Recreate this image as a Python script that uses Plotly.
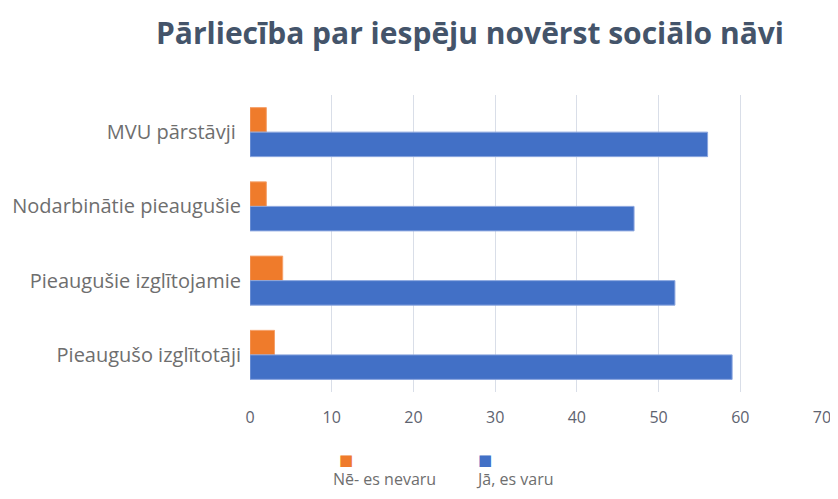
import plotly.graph_objects as go

categories = ["MVU pārstāvji\u00a0", "Nodarbinātie pieaugušie", "Pieaugušie izglītojamie", "Pieaugušo izglītotāji"]
series_names = ["Nē- es nevaru", "Jā, es varu"]
no_values = [2, 2, 4, 3]
yes_values = [56, 47, 52, 59]
x_ticks = [0, 10, 20, 30, 40, 50, 60, 70]
title_text = "Pārliecība par iespēju novērst sociālo nāvi"

orange = "#EF7B2B"
blue = "#4270C6"
gray = "#6E6E6E"
tick_gray = "#5E6370"

fig = go.Figure()
fig.add_trace(go.Bar(y=categories, x=no_values, orientation="h", name=series_names[0],
                     marker=dict(color=orange, line=dict(color="#F5A06A", width=1))))
fig.add_trace(go.Bar(y=categories, x=yes_values, orientation="h", name=series_names[1],
                     marker=dict(color=blue, line=dict(color="#8AA5DE", width=1))))

# the page body adds an 8px margin; work in page pixels and compensate
OFF = 8
W, H = 838 - OFF, 499 - 2 * OFF
L, T = 250 - OFF, 95 - OFF
R = (OFF + W) - 822
B = (OFF + H) - 392
pw = W - L - R

def px(x):
    return (x - OFF - L) / pw

def py(y):
    return (H - B - (y - OFF)) / (H - T - B)

# legend (squares above names)
legend_items = [(series_names[0], orange, 331, 337), (series_names[1], blue, 474, 476)]
for name, col, tx, sx in legend_items:
    fig.add_annotation(x=px(sx), y=py(460), xref="paper", yref="paper", xanchor="left", yanchor="middle",
                       text="■", showarrow=False, font=dict(color=col, size=15, family="DejaVu Sans"))
    fig.add_annotation(x=px(tx), y=py(479), xref="paper", yref="paper", xanchor="left", yanchor="middle",
                       text=name, showarrow=False, font=dict(color=gray, size=16, family="Open Sans"))

fig.update_layout(
    width=W, height=H,
    margin=dict(l=L, r=R, t=T, b=B),
    paper_bgcolor="white", plot_bgcolor="white",
    barmode="group", bargap=0.34, bargroupgap=0,
    showlegend=False,
    title=dict(text="<b>" + title_text + "</b>", x=(470 - OFF) / W, xanchor="center",
               y=1 - (33 - OFF) / H, yanchor="middle",
               font=dict(size=30, color="#44546A", family="Open Sans")),
    font=dict(family="Open Sans", color=gray),
)
fig.update_xaxes(range=[0, 70], tickvals=x_ticks, showgrid=True, gridcolor="#D9DEE8", gridwidth=1,
                 zeroline=False, showline=False, ticks="", tickfont=dict(size=16, color=tick_gray),
                 ticklabelstandoff=14, automargin=False, ticklabeloverflow="allow")
fig.update_yaxes(autorange="reversed", showgrid=False, showline=False, ticks="",
                 tickfont=dict(size=20, color=gray), ticklabelstandoff=8, automargin=False)

fig.write_html("out.html")
